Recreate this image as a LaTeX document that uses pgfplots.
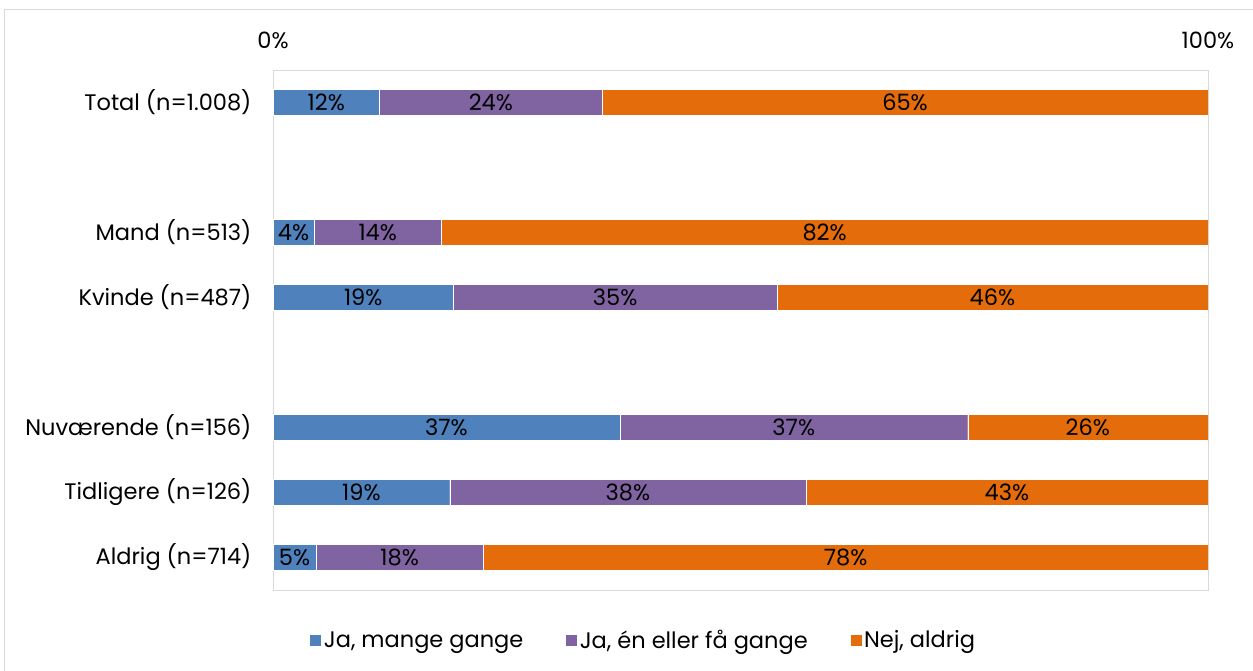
\documentclass[border=0pt]{standalone}
\usepackage{pgfplots}
\pgfplotsset{compat=1.18}
\usepackage{pgfplotstable}
\usepackage{fontspec}
\setmainfont{Poppins}
\definecolor{cblue}{HTML}{4F81BD}
\definecolor{cpurple}{HTML}{8064A2}
\definecolor{corange}{HTML}{E46C0A}
\definecolor{frame}{HTML}{D9D9D9}
\pgfplotstableread{
y a b c la lb lc
0 11.4 23.8 64.8 12\% 24\% 65\%
2 4.4 13.6 82.0 4\% 14\% 82\%
3 19.3 34.6 46.1 19\% 35\% 46\%
5 37.1 37.2 25.7 37\% 37\% 26\%
6 18.9 38.1 43.0 19\% 38\% 43\%
7 4.6 17.9 77.5 5\% 18\% 78\%
}\datatable
\newcommand\fs{\fontsize{22.5}{27}\selectfont}
\begin{document}
\begin{tikzpicture}[font=\fs]
\path[use as bounding box] (0pt,0pt) rectangle (1253pt,670pt);
\begin{scope}
\clip (0pt,0pt) rectangle (1253pt,670pt);
\draw[frame, line width=1pt] (4.5pt,-20pt) -- (4.5pt,660pt) -- (1300pt,660pt);
\end{scope}
\begin{axis}[
  at={(273pt,80pt)}, anchor=south west,
  width=935pt, height=520pt, scale only axis,
  xbar stacked,
  bar width=26pt,
  xmin=0, xmax=100,
  ymin=-0.5, ymax=7.5,
  y dir=reverse,
  axis line style={frame, line width=1pt},
  xtick={0,100},
  xticklabels={0\%,100\%},
  xticklabel pos=upper,
  xticklabel style={yshift=18pt},
  ytick={0,2,3,5,6,7},
  yticklabels={Total (n=1.008),Mand (n=513),Kvinde (n=487),Nuværende (n=156),Tidligere (n=126),Aldrig (n=714)},
  yticklabel style={xshift=-18pt},
  major tick length=0pt,
  tick style={draw=none},
  ticklabel style={font=\fs},
  /pgf/number format/assume math mode=true,
  legend columns=3,
  legend style={draw=none, fill=none, at={(0.396,-0.096)}, anchor=center,
    font=\fs,
    /tikz/every even column/.append style={column sep=40pt}},
  legend image code/.code={\fill[#1] (0pt,-6pt) rectangle (12pt,6pt);},
  nodes near coords,
  point meta=explicit symbolic,
  every node near coord/.append style={anchor=center, text=black,
    font=\fs},
]
\addplot[fill=cblue, draw=white, line width=0.4pt] table[x=a, y=y, meta=la] {\datatable};
\addplot[fill=cpurple, draw=white, line width=0.4pt] table[x=b, y=y, meta=lb] {\datatable};
\addplot[fill=corange, draw=white, line width=0.4pt] table[x=c, y=y, meta=lc] {\datatable};
\legend{{Ja, mange gange},{Ja, én eller få gange},{Nej, aldrig}}
\end{axis}
\end{tikzpicture}
\end{document}
